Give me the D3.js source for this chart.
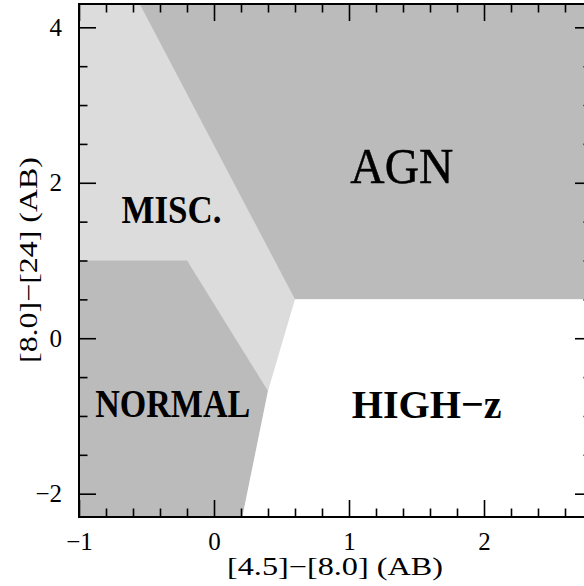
<!DOCTYPE html>
<html>
<head>
<meta charset="utf-8">
<script src="https://cdn.jsdelivr.net/npm/d3@7/dist/d3.min.js"></script>
<style>
  html, body { margin: 0; padding: 0; background: #fff; }
  svg { display: block; }
  text { font-family: "Liberation Serif", "DejaVu Serif", serif; fill: #000; }
</style>
</head>
<body>
<svg id="chart" width="584" height="586"></svg>
<script>
// ---- data ----
const xDomain = [-1, 2.8];
const yDomain = [-2.3, 4.3];
const xMajorTicks = [-1, 0, 1, 2];
const yMajorTicks = [-2, 0, 2, 4];
const xMinorStep = 0.2;
const yMinorStep = 0.5;

// region boundaries in data units ([4.5]-[8.0], [8.0]-[24])
const agnRegion    = [[-0.55, 4.3], [2.8, 4.3], [2.8, 0.5], [0.6, 0.5]];
const normalRegion = [[-1, 1.0], [-0.2, 1.0], [0.4, -0.68], [0.21, -2.3], [-1, -2.3]];
const highzRegion  = [[0.6, 0.5], [2.8, 0.5], [2.8, -2.3], [0.21, -2.3], [0.4, -0.68]];

const regionNames = ["AGN", "MISC.", "NORMAL", "HIGH\u2212z"];
const regionAnchors = [[1.01, 2.0], [-0.685, 1.48], [-0.88, -1.01], [1.02, -1.03]];

const xTitle = "[4.5]\u2212[8.0] (AB)";
const yTitle = "[8.0]\u2212[24] (AB)";

// ---- layout ----
const L = 79, R = 592, T = 4, B = 517;
const x = d3.scaleLinear().domain(xDomain).range([L, R]);
const y = d3.scaleLinear().domain(yDomain).range([B, T]);
const svg = d3.select("#chart");
const SERIF = "'Liberation Serif', 'DejaVu Serif', serif";
const TICK_FS = 25;

const light = "#dcdcdc", dark = "#bbbbbb";

const g = svg.append("g");
g.append("rect").attr("x", L).attr("y", T).attr("width", R - L).attr("height", B - T).attr("fill", light);

const line = d3.line().x(d => x(d[0])).y(d => y(d[1]));
g.append("path").attr("d", line(normalRegion) + "Z").attr("fill", dark);
g.append("path").attr("d", line(agnRegion) + "Z").attr("fill", dark);
g.append("path").attr("d", line(highzRegion) + "Z").attr("fill", "#fff");

// minor tick values
function range(lo, hi, step) {
  const out = [];
  const n0 = Math.ceil(lo / step - 1e-9), n1 = Math.floor(hi / step + 1e-9);
  for (let i = n0; i <= n1; i++) out.push(+(i * step).toFixed(6));
  return out;
}
const xMinor = range(xDomain[0], xDomain[1], xMinorStep).filter(v => !xMajorTicks.some(m => Math.abs(m - v) < 1e-6));
const yMinor = range(yDomain[0], yDomain[1], yMinorStep).filter(v => !yMajorTicks.some(m => Math.abs(m - v) < 1e-6));

const fmt = d => (d < 0 ? "\u2212" + Math.abs(d) : String(d));
const MAJ = 17, MIN = 8.5;

function styleAxis(sel, showText) {
  sel.attr("font-family", SERIF).attr("font-size", TICK_FS);
  sel.select(".domain").remove();
  sel.selectAll(".tick line").attr("stroke", "#000").attr("stroke-width", 1.6);
  if (!showText) sel.selectAll(".tick text").remove();
  else sel.selectAll(".tick text")
        .attr("font-size", TICK_FS).attr("fill", "#000")
        .attr("font-family", SERIF)
        .style("font-family", SERIF);
}

// bottom
svg.append("g").attr("transform", `translate(0,${B})`)
  .call(d3.axisBottom(x).tickValues(xMajorTicks).tickSize(-MAJ).tickPadding(15).tickFormat(fmt))
  .call(s => styleAxis(s, true));
svg.append("g").attr("transform", `translate(0,${B})`)
  .call(d3.axisBottom(x).tickValues(xMinor).tickSize(-MIN))
  .call(s => styleAxis(s, false));
// top
svg.append("g").attr("transform", `translate(0,${T})`)
  .call(d3.axisTop(x).tickValues(xMajorTicks).tickSize(-MAJ))
  .call(s => styleAxis(s, false));
svg.append("g").attr("transform", `translate(0,${T})`)
  .call(d3.axisTop(x).tickValues(xMinor).tickSize(-MIN))
  .call(s => styleAxis(s, false));
// left
svg.append("g").attr("transform", `translate(${L},0)`)
  .call(d3.axisLeft(y).tickValues(yMajorTicks).tickSize(-MAJ).tickPadding(17).tickFormat(fmt))
  .call(s => styleAxis(s, true));
svg.append("g").attr("transform", `translate(${L},0)`)
  .call(d3.axisLeft(y).tickValues(yMinor).tickSize(-MIN))
  .call(s => styleAxis(s, false));
// right
svg.append("g").attr("transform", `translate(${R},0)`)
  .call(d3.axisRight(y).tickValues(yMajorTicks).tickSize(-MAJ))
  .call(s => styleAxis(s, false));
svg.append("g").attr("transform", `translate(${R},0)`)
  .call(d3.axisRight(y).tickValues(yMinor).tickSize(-MIN))
  .call(s => styleAxis(s, false));

// frame
svg.append("rect").attr("x", L).attr("y", T).attr("width", R - L).attr("height", B - T)
  .attr("fill", "none").attr("stroke", "#000").attr("stroke-width", 2);

// region labels
const labelStyle = [
  { size: 51, weight: "normal", len: 103 },
  { size: 41, weight: "bold", len: 100 },
  { size: 41, weight: "bold", len: 155 },
  { size: 41, weight: "bold", len: 150 }
];
regionNames.forEach((name, i) => {
  const st = labelStyle[i];
  svg.append("text")
    .attr("x", x(regionAnchors[i][0]))
    .attr("y", y(regionAnchors[i][1]))
    .attr("font-size", st.size)
    .attr("font-weight", st.weight)
    .attr("font-family", SERIF)
    .attr("textLength", st.len)
    .attr("lengthAdjust", "spacingAndGlyphs")
    .attr("stroke", i === 0 ? "#000" : "none")
    .attr("stroke-width", i === 0 ? 0.5 : 0)
    .text(name);
});

// axis titles
svg.append("text")
  .attr("x", 227).attr("y", 575)
  .attr("font-size", 25)
  .attr("font-family", SERIF)
  .attr("textLength", 216).attr("lengthAdjust", "spacingAndGlyphs")
  .text(xTitle);
svg.append("text")
  .attr("transform", "translate(37,363) rotate(-90)")
  .attr("x", 0).attr("y", 0)
  .attr("font-size", 25)
  .attr("font-family", SERIF)
  .attr("textLength", 206).attr("lengthAdjust", "spacingAndGlyphs")
  .text(yTitle);
</script>
</body>
</html>
